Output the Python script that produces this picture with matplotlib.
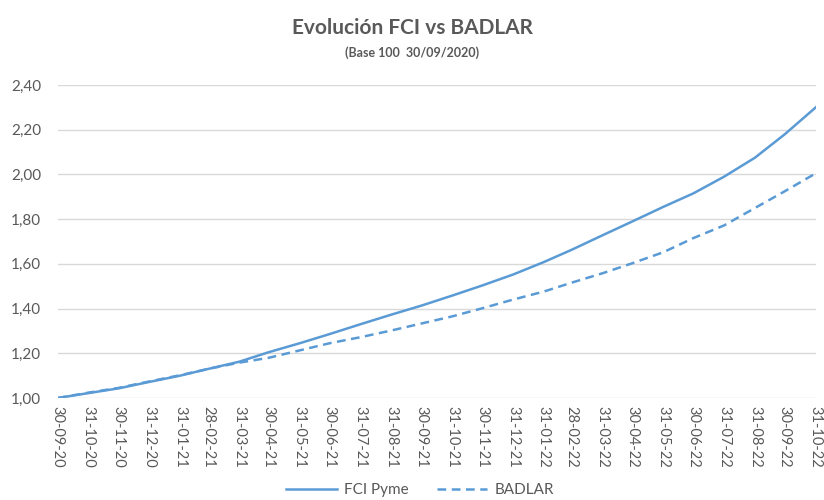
import matplotlib
matplotlib.use("Agg")
import matplotlib.pyplot as plt
import numpy as np
import pandas as pd

plt.rcParams["font.family"] = ["Lato", "DejaVu Sans"]

# fechas de cierre de mes
fechas = ["2020-09-30", "2020-10-31", "2020-11-30", "2020-12-31", "2021-01-31",
          "2021-02-28", "2021-03-31", "2021-04-30", "2021-05-31", "2021-06-30",
          "2021-07-31", "2021-08-31", "2021-09-30", "2021-10-31", "2021-11-30",
          "2021-12-31", "2022-01-31", "2022-02-28", "2022-03-31", "2022-04-30",
          "2022-05-31", "2022-06-30", "2022-07-31", "2022-08-31", "2022-09-30",
          "2022-10-31"]

fci_pyme = [1.000, 1.022, 1.043, 1.072, 1.100, 1.130, 1.162, 1.205, 1.245, 1.286,
            1.330, 1.373, 1.413, 1.458, 1.503, 1.552, 1.608, 1.663, 1.728, 1.790,
            1.855, 1.915, 1.990, 2.075, 2.180, 2.300]

badlar = [1.000, 1.024, 1.045, 1.074, 1.102, 1.130, 1.158, 1.180, 1.213, 1.245,
          1.272, 1.302, 1.333, 1.365, 1.401, 1.440, 1.476, 1.516, 1.558, 1.603,
          1.652, 1.715, 1.772, 1.850, 1.925, 2.005]

fechas = pd.to_datetime(fechas)
gris = "#595959"
azul = "#5B9BD5"

fig = plt.figure(figsize=(8.24, 5.0), dpi=100)
ax = fig.add_axes([0.070, 0.204, 0.920, 0.626])

ax.plot(fechas, fci_pyme, color=azul, lw=1.8, label="FCI Pyme")
ax.plot(fechas, badlar, color=azul, lw=1.8, ls=(0, (3.5, 2.2)), label="BADLAR")

ax.set_xlim(fechas[0], fechas[-1])
ax.set_ylim(1.0, 2.4)
ax.set_yticks(np.arange(1.0, 2.41, 0.2))
ax.set_yticklabels([f"{v:.2f}".replace(".", ",") for v in np.arange(1.0, 2.41, 0.2)])
ax.set_xticks(fechas)
ax.set_xticklabels([f.strftime("%d-%m-%y") for f in fechas], rotation=-90)

ax.grid(axis="y", color="#d9d9d9", lw=1)
ax.set_axisbelow(True)
for s in ax.spines.values():
    s.set_visible(False)
ax.tick_params(axis="both", length=0, colors=gris, labelsize=10.5)
ax.tick_params(axis="y", labelsize=11, pad=12)
ax.tick_params(axis="x", pad=6)

fig.text(0.5, 0.945, "Evolución FCI vs BADLAR", ha="center", va="center",
         fontsize=15, fontweight="bold", color=gris)
fig.text(0.5, 0.895, "(Base 100  30/09/2020)", ha="center", va="center",
         fontsize=9, fontweight="bold", color=gris)

leg = fig.legend(loc="center", bbox_to_anchor=(0.51, 0.02), ncol=2, frameon=False,
                 fontsize=11, handlelength=3.3, handletextpad=0.5, columnspacing=1.8)
for t in leg.get_texts():
    t.set_color(gris)

fig.savefig("out.png", dpi=100)
